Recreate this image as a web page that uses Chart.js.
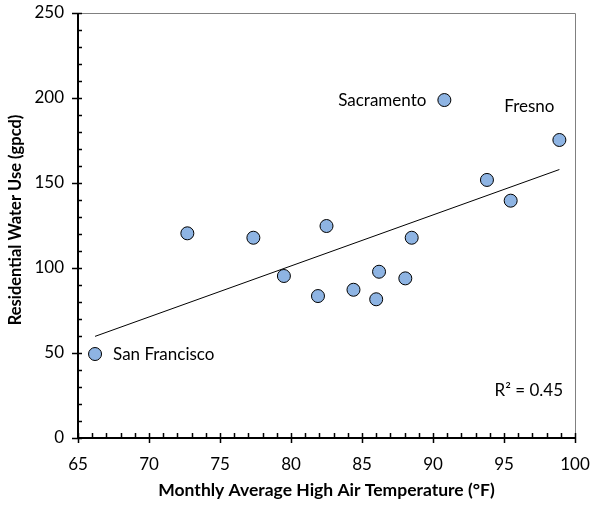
<!DOCTYPE html>
<html><head><meta charset="utf-8">
<script src="https://cdn.jsdelivr.net/npm/chart.js@4.4.1/dist/chart.umd.min.js"></script>
<style>html,body{margin:0;padding:0;background:#fff}#wrap{width:591px;height:506px;position:relative}</style>
</head><body><div id="wrap"><canvas id="c" width="591" height="506"></canvas></div>
<script>
// Data
const temperatureF = [66.2, 72.7, 77.35, 79.5, 82.5, 81.9, 84.4, 86.0, 86.2, 88.05, 88.5, 90.8, 93.8, 95.47, 98.9];
const waterUseGpcd = [49.4, 120.4, 117.8, 95.3, 124.7, 83.5, 87.2, 81.6, 97.8, 93.9, 117.8, 198.8, 151.8, 139.6, 175.3];
const cityNames = ["San Francisco", "Sacramento", "Fresno"];
const cityPointIndex = [0, 11, 14];
const xTickValues = [65, 70, 75, 80, 85, 90, 95, 100];
const yTickValues = [0, 50, 100, 150, 200, 250];
const rSquaredText = "R\u00B2 = 0.45";
const xTitle = "Monthly Average High Air Temperature (\u00B0F)";
const yTitle = "Residential Water Use (gpcd)";

// least-squares trendline from the points
const n = temperatureF.length;
const mx = temperatureF.reduce((a,b)=>a+b,0)/n;
const my = waterUseGpcd.reduce((a,b)=>a+b,0)/n;
let sxy=0, sxx=0;
for (let i=0;i<n;i++){ sxy+=(temperatureF[i]-mx)*(waterUseGpcd[i]-my); sxx+=(temperatureF[i]-mx)**2; }
const slope = sxy/sxx, intercept = my - slope*mx;
const xMin = Math.min(...temperatureF), xMax = Math.max(...temperatureF);
const trend = [{x:xMin, y:intercept+slope*xMin},{x:xMax, y:intercept+slope*xMax}];

const FONT = "Lato, 'Open Sans', sans-serif";

const decor = {
  id:'decor',
  afterDraw(chart){
    const {ctx, chartArea:a, scales:{x,y}} = chart;
    ctx.save();
    // frame top/right
    ctx.strokeStyle='#808080'; ctx.lineWidth=1;
    ctx.beginPath(); ctx.moveTo(a.left, a.top+0.5); ctx.lineTo(a.right+0.5, a.top+0.5); ctx.lineTo(a.right+0.5, a.bottom); ctx.stroke();
    // axes
    ctx.strokeStyle='#000'; ctx.lineWidth=2;
    ctx.beginPath(); ctx.moveTo(a.left, a.top); ctx.lineTo(a.left, a.bottom); ctx.lineTo(a.right+1, a.bottom); ctx.stroke();
    // ticks
    ctx.lineWidth=1.5;
    ctx.beginPath();
    for (let v=y.min; v<=y.max+0.001; v+=10){
      const py=Math.round(y.getPixelForValue(v))+0.5;
      const major = Math.abs(v%50)<0.001;
      ctx.moveTo(a.left-(major?6:0), py); ctx.lineTo(a.left+4, py);
    }
    for (let v=x.min; v<=x.max+0.001; v+=1){
      const px=Math.round(x.getPixelForValue(v))+0.5;
      const major = Math.abs(v%5)<0.001;
      ctx.moveTo(px, a.bottom+(major?5:0)); ctx.lineTo(px, a.bottom-5);
    }
    ctx.stroke();
    // city labels
    ctx.fillStyle='#000'; ctx.font='17px '+FONT; ctx.textBaseline='middle';
    const offs = [[18,0,'left'],[-18,0,'right'],[-30,-33,'center']];
    cityPointIndex.forEach((idx,k)=>{
      const px=x.getPixelForValue(temperatureF[idx]), py=y.getPixelForValue(waterUseGpcd[idx]);
      ctx.textAlign=offs[k][2];
      ctx.fillText(cityNames[k], px+offs[k][0], py+offs[k][1]);
    });
    ctx.textAlign='right';
    ctx.fillText(rSquaredText, a.right-12, a.bottom-47);
    // titles
    ctx.font='bold 17.5px '+FONT; ctx.textAlign='center';
    ctx.fillText(xTitle, (a.left+a.right)/2, 490);
    ctx.font='bold 16.5px '+FONT;
    ctx.translate(16, 220); ctx.rotate(-Math.PI/2);
    ctx.fillText(yTitle, 0, 0);
    ctx.restore();
  }
};

new Chart(document.getElementById('c'), {
  type:'scatter',
  data:{datasets:[
    {data: temperatureF.map((t,i)=>({x:t,y:waterUseGpcd[i]})), backgroundColor:'#8EB4E3', borderColor:'#000', borderWidth:1, pointRadius:6.5, pointHoverRadius:6.5, order:1},
    {type:'line', data:trend, borderColor:'#000', borderWidth:1, pointRadius:0, fill:false, order:2}
  ]},
  options:{
    responsive:false, animation:false, devicePixelRatio:1,
    layout:{padding:{left:0,top:13,right:16,bottom:0}},
    plugins:{legend:{display:false}, tooltip:{enabled:false}},
    scales:{
      x:{type:'linear', min:65, max:100, border:{display:false},
         grid:{display:false, drawTicks:false},
         afterBuildTicks(s){ s.ticks = xTickValues.map(v=>({value:v})); },
         afterFit(s){ s.height=68; s.paddingLeft=0; s.paddingRight=0; },
         ticks:{padding:16, color:'#000', font:{family:FONT, size:17}, maxRotation:0}},
      y:{type:'linear', min:0, max:250, border:{display:false},
         grid:{display:false, drawTicks:false},
         afterBuildTicks(s){ s.ticks = yTickValues.map(v=>({value:v})); },
         afterFit(s){ s.width=78; s.paddingTop=0; s.paddingBottom=0; },
         ticks:{padding:14, color:'#000', font:{family:FONT, size:17}}}
    }
  },
  plugins:[decor]
});
</script></body></html>
